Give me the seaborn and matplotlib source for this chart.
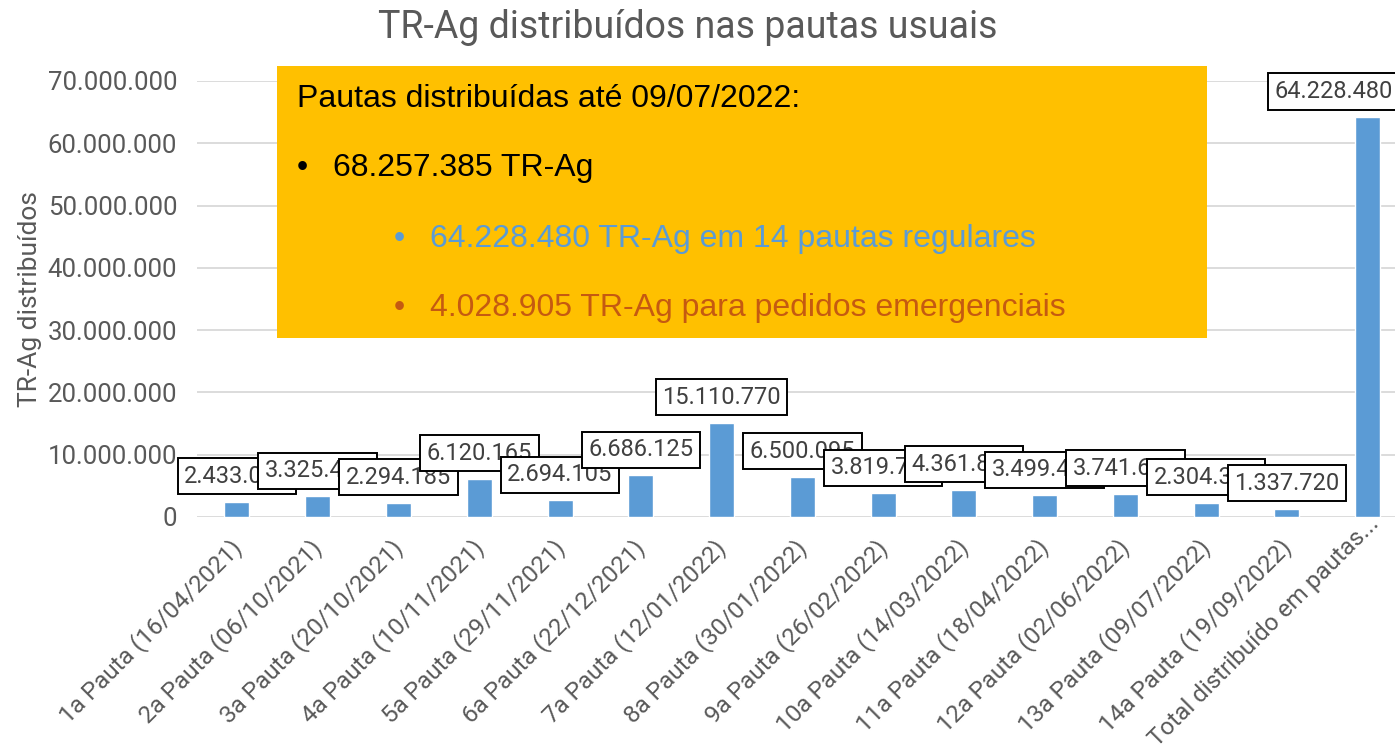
import numpy as np
import pandas as pd
import matplotlib
matplotlib.use("Agg")
import matplotlib.pyplot as plt
import matplotlib.patches as mpatches
import matplotlib.transforms as mtransforms
from matplotlib.ticker import FuncFormatter
import seaborn as sns

pautas = ["1a Pauta (16/04/2021)", "2a Pauta (06/10/2021)", "3a Pauta (20/10/2021)",
          "4a Pauta (10/11/2021)", "5a Pauta (29/11/2021)", "6a Pauta (22/12/2021)",
          "7a Pauta (12/01/2022)", "8a Pauta (30/01/2022)", "9a Pauta (26/02/2022)",
          "10a Pauta (14/03/2022)", "11a Pauta (18/04/2022)", "12a Pauta (02/06/2022)",
          "13a Pauta (09/07/2022)", "14a Pauta (19/09/2022)", "Total distribuído em pautas..."]
valores = [2433000, 3325410, 2294185, 6120165, 2694105, 6686125, 15110770, 6500095,
           3819720, 4361800, 3499425, 3741630, 2304330, 1337720, 64228480]

resumo_titulo = "Pautas distribuídas até 09/07/2022:"
resumo_total = "68.257.385 TR-Ag"
resumo_regular = "64.228.480 TR-Ag em 14 pautas regulares"
resumo_emerg = "4.028.905 TR-Ag para pedidos emergenciais"

cinza = "#595959"
azul = "#5B9BD5"
laranja = "#C55A11"
amarelo = "#FFC000"

def fmt(v):
    return f"{int(round(v)):,}".replace(",", ".")

df = pd.DataFrame({"pauta": pautas, "valor": valores})

sns.set_style("white")
plt.rcParams["font.family"] = ["Roboto", "DejaVu Sans"]

W, H = 1395, 749
fig = plt.figure(figsize=(W / 100, H / 100), dpi=100)
ax = fig.add_axes([196.6 / W, 1 - 517 / H, (1408 - 196.6) / W, (517 - 81) / H])

sns.barplot(data=df, x="pauta", y="valor", color=azul, saturation=1, width=0.31, ax=ax, zorder=2)

ax.set_ylim(0, 70_000_000)
ax.set_yticks(np.arange(0, 70_000_001, 10_000_000))
ax.yaxis.set_major_formatter(FuncFormatter(lambda v, p: fmt(v)))
ax.grid(axis="y", color="#D9D9D9", linewidth=1.3, zorder=0)
ax.set_axisbelow(True)
for s in ax.spines.values():
    s.set_visible(False)
ax.tick_params(axis="y", length=0, pad=14, labelsize=18.5, labelcolor=cinza)
ax.tick_params(axis="x", length=0, pad=13)
ax.set_xlabel("")
ax.set_ylabel("TR-Ag distribuídos", fontsize=19, color=cinza, labelpad=4)
ax.set_xticks(range(len(pautas)))
ax.set_xticklabels(pautas, rotation=45, ha="right", va="top", rotation_mode="anchor",
                   fontsize=17.5, color=cinza)
rotulos = ax.get_xticklabels()
for k, lbl in enumerate(rotulos):
    if k == len(rotulos) - 1:
        desloc = mtransforms.ScaledTranslation(0, 23 / 100, fig.dpi_scale_trans)
    else:
        desloc = mtransforms.ScaledTranslation(-8 / 100, 0, fig.dpi_scale_trans)
    lbl.set_transform(lbl.get_transform() + desloc)

n = len(valores)
for i, v in enumerate(valores):
    dx = -34 if i == n - 1 else 0
    ax.annotate(fmt(v), xy=(i, v), xytext=(dx, 14), textcoords="offset pixels",
                ha="center", va="bottom", fontsize=17, color="#404040", zorder=3 + i * 0.01,
                bbox=dict(boxstyle="square,pad=0.28", fc="white", ec="black", lw=1.4),
                annotation_clip=False)

fig.text(688 / W, 1 - 27 / H, "TR-Ag distribuídos nas pautas usuais", ha="center", va="center",
         fontsize=27, color=cinza)

fig.patches.append(mpatches.Rectangle((277 / W, 1 - 338 / H), (1207 - 277) / W, (338 - 66) / H,
                                      transform=fig.transFigure, facecolor=amarelo,
                                      edgecolor="none", zorder=5))
arial = ["Liberation Sans", "DejaVu Sans"]
fig.text(297 / W, 1 - 99 / H, resumo_titulo, ha="left", va="center", fontsize=23,
         color="black", family=arial, zorder=6)
fig.text(297 / W, 1 - 168 / H, "•", ha="left", va="center", fontsize=23, color="black", family=arial, zorder=6)
fig.text(333 / W, 1 - 168 / H, resumo_total, ha="left", va="center", fontsize=23,
         color="black", family=arial, zorder=6)
fig.text(394 / W, 1 - 239 / H, "•", ha="left", va="center", fontsize=23, color=azul, family=arial, zorder=6)
fig.text(430 / W, 1 - 239 / H, resumo_regular, ha="left", va="center", fontsize=23,
         color=azul, family=arial, zorder=6)
fig.text(394 / W, 1 - 308 / H, "•", ha="left", va="center", fontsize=23, color=laranja, family=arial, zorder=6)
fig.text(430 / W, 1 - 308 / H, resumo_emerg, ha="left", va="center", fontsize=23,
         color=laranja, family=arial, zorder=6)

fig.savefig("out.png", dpi=100)
